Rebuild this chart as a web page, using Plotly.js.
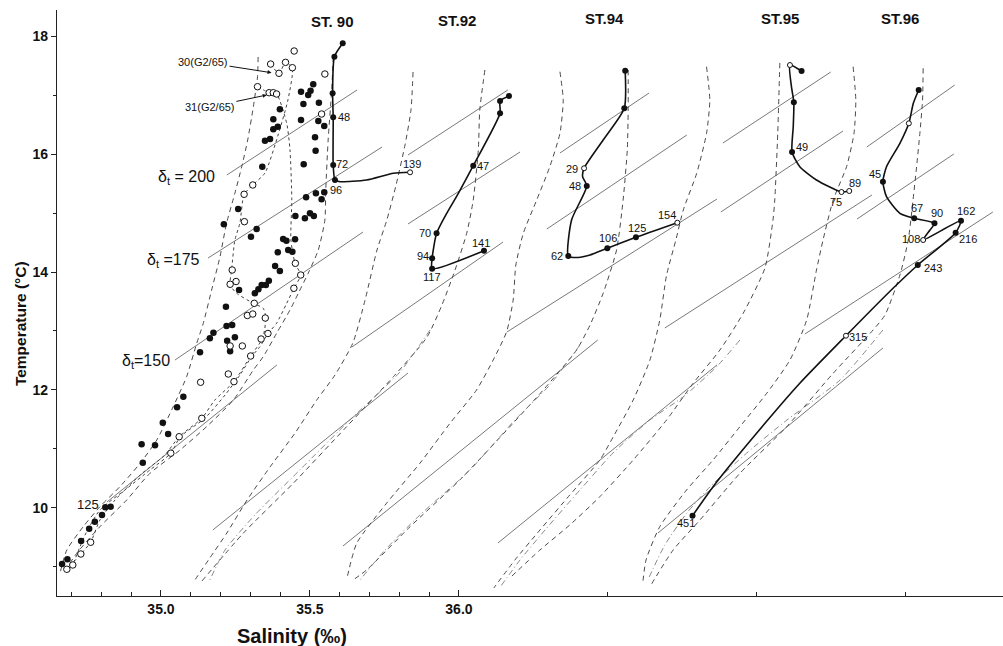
<!DOCTYPE html>
<html><head><meta charset="utf-8">
<script src="https://cdn.plot.ly/plotly-3.0.1.min.js"></script>
<style>html,body{margin:0;padding:0;background:#fff}#chart{width:1003px;height:646px}</style>
</head><body><div id="chart"></div>
<script>
// ---------- Station T-S curves (salinity as plotted, temperature) ----------
const st90PathS = [35.610,35.582,35.576,35.578,35.578,35.584,35.601,35.690,35.780,35.836];
const st90PathT = [17.876,17.649,17.029,16.622,15.814,15.559,15.531,15.559,15.673,15.690];
const st90DotS = [35.610,35.582,35.576,35.578,35.578,35.584];
const st90DotT = [17.876,17.649,17.029,16.622,15.814,15.559];
const st90OpenS = [35.836];
const st90OpenT = [15.690];

const st92PathS = [36.168,36.138,36.138,36.048,35.998,35.959,35.925,35.910,35.910,36.084];
const st92PathT = [16.983,16.898,16.690,15.802,15.334,14.995,14.656,14.232,14.056,14.361];
const st92DotS = [36.168,36.138,36.138,36.048,35.925,35.910,35.910,36.084];
const st92DotT = [16.983,16.898,16.690,15.802,14.656,14.232,14.056,14.361];

const st94PathS = [36.558,36.555,36.484,36.420,36.415,36.429,36.378,36.367,36.400,36.440,36.498,36.594,36.733];
const st94PathT = [17.412,16.775,16.237,15.758,15.615,15.458,14.881,14.271,14.245,14.288,14.402,14.588,14.836];
const st94DotS = [36.558,36.555,36.429,36.367,36.498,36.594];
const st94DotT = [17.412,16.775,15.458,14.271,14.402,14.588];
const st94OpenS = [36.420,36.733];
const st94OpenT = [15.758,14.836];

const st95PathS = [37.150,37.111,37.116,37.124,37.122,37.118,37.144,37.200,37.284,37.310];
const st95PathT = [17.407,17.508,17.141,16.876,16.463,16.034,15.785,15.559,15.356,15.373];
const st95DotS = [37.150,37.124,37.118];
const st95DotT = [17.407,16.876,16.034];
const st95OpenS = [37.111,37.284,37.310];
const st95OpenT = [17.508,15.356,15.373];

const st96PathS = [37.543,37.525,37.510,37.480,37.435,37.423,37.435,37.480,37.528,37.596,37.581,37.558,37.685,37.667,37.540,37.457,37.299,37.144,36.999,36.853,36.784];
const st96PathT = [17.085,16.859,16.520,16.181,15.785,15.531,15.276,14.995,14.910,14.825,14.712,14.542,14.869,14.666,14.119,13.724,12.920,12.114,11.266,10.361,9.869];
const st96DotS = [37.543,37.423,37.528,37.596,37.685,37.667,37.540,36.784];
const st96DotT = [17.085,15.531,14.910,14.825,14.869,14.666,14.119,9.869];
const st96OpenS = [37.510,37.558,37.299];
const st96OpenT = [16.520,14.542,12.920];

// depth labels
const depthText = ['48','72','96','139','47','70','94','117','141','29','48','62','106','125','154','49','75','89','45','67','90','108','162','216','243','315','451'];
const depthS = [35.614,35.607,35.587,35.842,36.081,35.886,35.878,35.909,36.074,36.380,36.390,36.330,36.501,36.596,36.698,37.151,37.265,37.328,37.396,37.536,37.604,37.518,37.702,37.707,37.590,37.339,36.761];
const depthT = [16.619,15.831,15.398,15.831,15.797,14.656,14.271,13.921,14.492,15.751,15.453,14.266,14.571,14.741,14.971,16.124,15.195,15.512,15.653,15.081,14.992,14.554,15.037,14.559,14.076,12.890,9.741];

// ---------- Reference observations near ST.90 ----------
const refFilledS = [35.511,35.502,35.470,35.494,35.478,35.530,35.399,35.377,35.392,35.377,35.470,35.528,35.548,35.366,35.349,35.517,35.519,35.340,35.479,35.548,35.520,35.539,35.487,35.259,35.321,35.302,35.211,35.451,35.483,35.500,35.513,35.410,35.421,35.450,35.427,35.441,35.392,35.383,35.399,35.262,35.315,35.327,35.338,35.352,35.362,35.218,35.220,35.239,35.176,35.164,35.222,35.248,35.232,35.131,35.075,35.054,35.006,35.024,34.935,34.980,34.939,34.831,34.813,34.802,34.778,34.759,34.732,34.686,34.668];
const refFilledT = [17.181,17.073,17.056,17.000,16.847,16.869,16.758,16.588,16.463,16.419,16.576,16.559,16.475,16.254,16.225,16.283,16.056,15.785,15.825,15.351,15.334,15.232,15.266,15.068,14.729,14.598,14.808,14.949,14.910,14.995,14.949,14.559,14.531,14.554,14.373,14.344,14.334,14.102,14.017,13.695,13.639,13.707,13.780,13.780,13.853,13.412,13.085,13.102,12.971,12.876,12.836,12.893,12.656,12.639,11.886,11.707,11.446,11.254,11.080,11.063,10.768,10.022,10.012,9.881,9.768,9.649,9.441,9.131,9.051];
const refOpenS = [35.447,35.368,35.418,35.396,35.441,35.324,35.363,35.377,35.388,35.550,35.539,35.308,35.279,35.280,35.239,35.232,35.252,35.451,35.469,35.446,35.313,35.290,35.308,35.350,35.336,35.359,35.273,35.232,35.301,35.226,35.245,35.133,35.137,35.061,35.033,34.764,34.731,34.704,34.684];
const refOpenT = [17.746,17.525,17.554,17.368,17.463,17.141,17.039,17.039,17.017,17.356,16.678,15.475,15.317,14.853,14.034,13.792,13.839,14.147,13.949,13.724,13.469,13.263,13.288,13.220,12.864,12.958,12.746,12.746,12.576,12.271,12.141,12.131,11.520,11.208,10.929,9.419,9.220,9.034,8.961];

// G2/65 station curves (dotted)
const g30S = [35.368,35.396,35.418,35.441,35.426,35.393,35.349,35.308,35.279,35.265,35.248,35.237,35.232,35.254,35.310,35.343,35.352,35.341,35.301,35.245,35.181,35.137,35.061,35.013,34.930,34.846,34.795,34.764,34.731,34.684];
const g30T = [17.525,17.368,17.554,17.463,16.915,16.322,15.678,15.475,15.317,14.831,14.542,14.034,13.780,13.639,13.469,13.385,13.225,12.876,12.576,12.141,11.831,11.520,11.208,10.898,10.559,10.136,9.797,9.419,9.220,8.961];
const g31S = [35.324,35.363,35.388,35.422,35.433,35.439,35.436,35.450,35.469,35.446,35.422,35.388,35.360,35.332,35.304,35.265,35.215,35.148,35.064,35.034,34.963,34.879,34.795,34.745,34.704];
const g31T = [17.141,17.039,17.017,16.520,16.068,15.220,14.542,14.147,13.949,13.724,13.469,13.131,12.961,12.734,12.564,12.254,11.915,11.525,11.203,10.932,10.644,10.305,9.966,9.542,9.034];

// ---------- Envelope curves (dashed), one pair per station ----------
const env90LS = [35.326,35.324,35.310,35.291,35.271,35.248,35.220,35.198,35.170,35.142,35.120,35.086,35.041,34.986,34.930,34.862,34.795,34.739,34.684,34.661];
const env90LT = [17.644,17.310,16.802,16.237,15.785,15.334,14.825,14.259,13.695,13.131,12.792,12.225,11.717,11.153,10.758,10.361,10.022,9.683,9.288,8.893];
const env90RS = [35.578,35.573,35.561,35.553,35.550,35.528,35.494,35.463,35.433,35.388,35.343,35.310,35.243,35.153,35.064,34.963,34.885,34.795,34.717,34.672];
const env90RT = [17.649,17.085,16.237,15.390,14.881,14.373,13.978,13.661,13.356,12.961,12.564,12.339,11.831,11.378,10.983,10.588,10.136,9.683,9.232,8.893];
const env92LS = [35.846,35.839,35.819,35.789,35.758,35.725,35.685,35.644,35.584,35.523,35.450,35.366,35.289,35.221,35.164,35.107];
const env92LT = [17.390,16.746,16.153,15.475,14.881,14.373,13.525,12.797,12.254,11.831,11.271,10.695,10.136,9.576,9.153,8.729];
const env92RS = [36.087,36.070,36.065,36.048,36.026,35.987,35.943,35.893,35.780,35.623,35.444,35.276,35.131];
const env92RT = [17.424,16.746,16.068,15.220,14.656,14.034,13.441,12.898,12.225,11.378,10.419,9.571,8.724];
const env94LS = [36.339,36.350,36.339,36.305,36.261,36.216,36.191,36.182,36.160,36.115,36.059,35.970,35.869,35.757,35.657,35.623];
const env94LT = [17.395,16.915,16.351,15.785,15.220,14.656,14.119,13.525,12.988,12.508,12.000,11.436,10.758,10.080,9.402,8.780];
const env94RS = [36.568,36.568,36.565,36.551,36.529,36.484,36.440,36.395,36.283,36.171,36.003,35.836,35.690,35.645];
const env94RT = [17.424,16.746,16.068,15.220,14.373,13.639,13.102,12.678,12.000,11.378,10.475,9.683,8.949,8.780];
const env95LS = [36.831,36.842,36.831,36.798,36.753,36.728,36.697,36.674,36.641,36.585,36.518,36.473,36.372,36.272,36.188,36.117];
const env95LT = [17.480,16.915,16.351,15.673,15.051,14.542,13.949,13.186,12.508,11.831,11.208,10.814,10.220,9.627,9.119,8.644];
const env95RS = [37.077,37.070,37.060,37.054,37.027,36.954,36.876,36.786,36.697,36.585,36.473,36.372,36.272,36.171];
const env95RT = [17.542,16.356,15.220,14.881,14.068,13.300,12.678,12.114,11.492,10.814,10.192,9.712,9.288,8.814];
const env96LS = [37.323,37.332,37.326,37.301,37.256,37.222,37.200,37.167,37.111,37.033,36.943,36.853,36.764,36.674,36.628,36.617];
const env96LT = [17.480,16.915,16.351,15.785,15.220,14.542,14.034,13.186,12.508,11.944,11.378,10.814,10.305,9.683,9.119,8.729];
const env96RS = [37.558,37.556,37.547,37.536,37.524,37.508,37.480,37.430,37.390,37.256,37.100,36.943,36.809,36.719,36.641];
const env96RT = [17.453,16.915,16.351,15.785,15.220,14.542,13.949,13.271,13.017,12.283,11.378,10.588,9.797,9.288,8.666];

// dash-dot mean curves (lower parts)
const mid92S = [35.903,35.802,35.634,35.466,35.315,35.215,35.164];
const mid92T = [13.017,12.305,11.492,10.644,9.881,9.288,8.780];
const mid94S = [36.406,36.305,36.188,36.037,35.869,35.752,35.668];
const mid94T = [12.763,12.085,11.492,10.644,9.881,9.288,8.780];
const mid95S = [36.943,36.865,36.752,36.641,36.517,36.406,36.289,36.205,36.141];
const mid95T = [12.847,12.395,11.881,11.492,10.932,10.305,9.627,9.119,8.678];
const mid96S = [37.423,37.279,37.101,36.966,36.842,36.765,36.691,36.634];
const mid96T = [13.017,12.169,11.492,10.932,10.356,9.915,9.373,8.780];

// ---------- sigma-t isolines (segments: start, end) ----------
const sigma90S = [35.221,35.658,null,35.158,35.742,null,35.047,35.678,null,34.819,35.389];
const sigma90T = [15.644,17.085,null,14.237,16.119,null,12.508,14.678,null,10.102,12.424];
const sigma92S = [35.829,36.164,null,35.829,36.205,null,35.641,36.148,null,35.174,35.829];
const sigma92T = [15.983,17.085,null,14.814,16.034,null,12.729,14.508,null,9.627,12.288];
const sigma94S = [36.339,36.638,null,36.295,36.765,null,36.161,36.866,null,35.611,36.466];
const sigma94T = [16.017,17.034,null,14.729,16.322,null,12.983,15.237,null,9.356,12.847];
const sigma95S = [36.886,37.248,null,36.879,37.289,null,36.691,37.386,null,36.131,36.866];
const sigma95T = [16.186,17.390,null,15.017,16.390,null,13.051,15.305,null,9.407,12.424];
const sigma96S = [37.369,37.664,null,37.336,37.661,null,37.161,37.792,null,36.668,37.423];
const sigma96T = [16.119,17.169,null,14.898,16.000,null,12.949,15.017,null,9.576,12.712];

const sigmaLabels = ['δ<sub>t</sub> = 200','δ<sub>t</sub> =175','δ<sub>t</sub>=150'];
const sigmaLabelS = [35.188,35.138,35.037];
const sigmaLabelT = [15.610,14.203,12.480];

const stationNames = ['ST. 90','ST.92','ST.94','ST.95','ST.96'];
const stationNameS = [35.577,35.993,36.487,37.077,37.480];
const stationNameT = [18.254,18.271,18.305,18.305,18.305];

const xMajor = [35.0,35.5,36.0];
const xMinor = [34.7,34.8,34.9,35.1,35.2,35.3,35.4,35.6,35.7,35.8,35.9,36.5,37.0,37.5];
const yMajor = [10,12,14,16,18];
const yMinor = [9,11,13,15,17];

// ---------- build ----------
const FONT = 'Liberation Sans, Arial, sans-serif';
const traces = [];
function line(S, T, color, width, dash, shape) {
  traces.push({x:S, y:T, type:'scatter', mode:'lines', hoverinfo:'skip',
    line:{color:color, width:width, dash:dash||'solid', shape:shape||'linear', smoothing:0.6}});
}
function dots(S, T, open, size) {
  traces.push({x:S, y:T, type:'scatter', mode:'markers', hoverinfo:'skip',
    marker:{size:size, color: open ? '#ffffff' : '#111111', line:{color:'#111111', width: open ? 1 : 0}}});
}
[[sigma90S,sigma90T],[sigma92S,sigma92T],[sigma94S,sigma94T],[sigma95S,sigma95T],[sigma96S,sigma96T]]
  .forEach(p => line(p[0], p[1], '#6a6a6a', 0.9));
[[env90LS,env90LT],[env90RS,env90RT],[env92LS,env92LT],[env92RS,env92RT],[env94LS,env94LT],[env94RS,env94RT],
 [env95LS,env95LT],[env95RS,env95RT],[env96LS,env96LT],[env96RS,env96RT]]
  .forEach(p => line(p[0], p[1], '#4a4a4a', 1, '5px,4px', 'spline'));
[[mid92S,mid92T],[mid94S,mid94T],[mid95S,mid95T],[mid96S,mid96T]]
  .forEach(p => line(p[0], p[1], '#7a7a7a', 0.9, '6px,3px,1px,3px', 'spline'));
line(g30S, g30T, '#444', 1, 'dot', 'spline');
line(g31S, g31T, '#444', 1, 'dot', 'spline');
dots(refFilledS, refFilledT, false, 6.5);
dots(refOpenS, refOpenT, true, 6.5);
[[st90PathS,st90PathT],[st92PathS,st92PathT],[st94PathS,st94PathT],[st95PathS,st95PathT],[st96PathS,st96PathT]]
  .forEach(p => line(p[0], p[1], '#111', 1.6, 'solid', 'spline'));
[[st90DotS,st90DotT],[st92DotS,st92DotT],[st94DotS,st94DotT],[st95DotS,st95DotT],[st96DotS,st96DotT]]
  .forEach(p => dots(p[0], p[1], false, 6));
[[st90OpenS,st90OpenT],[st94OpenS,st94OpenT],[st95OpenS,st95OpenT],[st96OpenS,st96OpenT]]
  .forEach(p => dots(p[0], p[1], true, 5));

const ann = [];
depthText.forEach((t,i) => ann.push({x:depthS[i], y:depthT[i], text:t, showarrow:false,
  xanchor:'center', yanchor:'middle', font:{family:FONT, size:11, color:'#111'}}));
sigmaLabels.forEach((t,i) => ann.push({x:sigmaLabelS[i], y:sigmaLabelT[i], text:t, showarrow:false,
  xanchor:'right', yanchor:'middle', font:{family:FONT, size:16, color:'#111'}}));
stationNames.forEach((t,i) => ann.push({x:stationNameS[i], y:stationNameT[i], text:t, showarrow:false,
  xanchor:'center', yanchor:'middle', font:{family:FONT, size:15, color:'#111', weight:'bold'}}));
ann.push({x:34.754, y:10.051, text:'125', showarrow:false, xanchor:'center', yanchor:'middle',
  font:{family:FONT, size:13, color:'#111'}});
ann.push({x:35.371, y:17.378, ax:35.141, ay:17.559, axref:'x', ayref:'y', text:'30(G2/65)',
  showarrow:true, arrowhead:2, arrowsize:0.8, arrowwidth:1, arrowcolor:'#111', font:{family:FONT, size:11, color:'#111'}});
ann.push({x:35.355, y:17.000, ax:35.164, ay:16.797, axref:'x', ayref:'y', text:'31(G2/65)',
  showarrow:true, arrowhead:2, arrowsize:0.8, arrowwidth:1, arrowcolor:'#111', font:{family:FONT, size:11, color:'#111'}});
ann.push({xref:'paper', yref:'paper', x:0.2484, y:-0.0683, xanchor:'center', yanchor:'middle',
  text:'Salinity (‰)', showarrow:false, font:{family:FONT, size:20, color:'#111', weight:'bold'}});
ann.push({xref:'paper', yref:'paper', x:-0.0391, y:0.464, xanchor:'center', yanchor:'middle',
  text:'Temperature (°C)', textangle:-90, showarrow:false, font:{family:FONT, size:15.5, color:'#111', weight:'bold'}});

const layout = {
  width:1003, height:646, paper_bgcolor:'#fff', plot_bgcolor:'#fff', showlegend:false,
  margin:{l:57, r:0, t:10, b:50},
  font:{family:FONT, color:'#111'},
  xaxis:{range:[34.651,37.826], showgrid:false, zeroline:false, showline:true, linecolor:'#222', linewidth:1.2,
    tickmode:'array', tickvals:xMajor, ticktext:['35.0','35.5','36.0'], ticks:'inside', ticklen:6, tickcolor:'#222',
    tickfont:{family:FONT, size:14, weight:'bold', color:'#111'},
    minor:{tickmode:'array', tickvals:xMinor, ticks:'inside', ticklen:4, tickcolor:'#222'}},
  yaxis:{range:[8.508,18.441], showgrid:false, zeroline:false, showline:true, linecolor:'#222', linewidth:1.2,
    tickmode:'array', tickvals:yMajor, ticks:'outside', ticklen:5, tickcolor:'#222',
    tickfont:{family:FONT, size:14, weight:'bold', color:'#111'},
    minor:{tickmode:'array', tickvals:yMinor, ticks:'outside', ticklen:3, tickcolor:'#222'}},
  annotations:ann
};
Plotly.newPlot('chart', traces, layout, {staticPlot:true, displayModeBar:false});
</script>
</body></html>
